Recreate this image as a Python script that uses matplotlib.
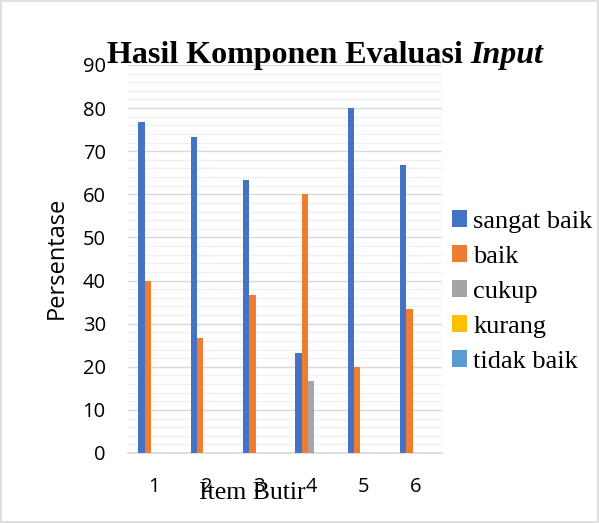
import matplotlib
matplotlib.use("Agg")
import matplotlib.pyplot as plt
from matplotlib.patches import Rectangle
from matplotlib.ticker import MultipleLocator
import numpy as np

categories = ["1", "2", "3", "4", "5", "6"]
series_names = ["sangat baik", "baik", "cukup", "kurang", "tidak baik"]
sangat_baik = [76.7, 73.3, 63.3, 23.3, 80.0, 66.7]
baik = [40.0, 26.7, 36.7, 60.0, 20.0, 33.3]
cukup = [0, 0, 0, 16.7, 0, 0]
kurang = [0, 0, 0, 0, 0, 0]
tidak_baik = [0, 0, 0, 0, 0, 0]
colors = ["#4472C4", "#ED7D31", "#A5A5A5", "#FFC000", "#5B9BD5"]

series = [sangat_baik, baik, cukup, kurang, tidak_baik]

fig = plt.figure(figsize=(5.99, 5.23), dpi=100)
fig.patches.append(Rectangle((0.002, 0.002), 0.996, 0.996, transform=fig.transFigure,
                             fill=False, edgecolor="#d9d9d9", linewidth=1.2))
ax = fig.add_axes([128/599, 1-453/523, 314/599, 388/523])

x = np.arange(len(categories))
w = 0.122
handles = []
for k, (vals, name, c) in enumerate(zip(series, series_names, colors)):
    b = ax.bar(x + (k - 2) * w, vals, width=w, color=c, label=name, linewidth=0, zorder=3)
    handles.append(b)

ax.set_xlim(-0.5, len(categories) - 0.5)
ax.set_ylim(0, 90)
ax.yaxis.set_major_locator(MultipleLocator(10))
ax.yaxis.set_minor_locator(MultipleLocator(2))
ax.grid(which="major", axis="y", color="#d9d9d9", linewidth=1.0, zorder=0)
ax.grid(which="minor", axis="y", color="#f0f0f0", linewidth=1.0, zorder=0)
for s in ["top", "right", "left"]:
    ax.spines[s].set_visible(False)
ax.spines["bottom"].set_color("#d9d9d9")
ax.spines["bottom"].set_linewidth(1.2)
ax.set_xticks(x)
ax.set_xticklabels(categories)
ax.tick_params(axis="both", which="both", length=0, labelsize=14.5, colors="#000000")
for lbl in ax.get_xticklabels() + ax.get_yticklabels():
    lbl.set_fontfamily("Open Sans")
ax.tick_params(axis="x", pad=17)
ax.tick_params(axis="y", pad=16)

fig.text(57/599, 1-258/523, "Persentase", rotation=90, ha="center", va="center",
         fontsize=17, fontfamily="Open Sans")
fig.text(252/599, 1-499/523, "Item Butir", ha="center", va="baseline",
         fontsize=18.5, fontfamily="Liberation Serif")

leg = fig.legend(handles=handles, labels=series_names, loc="upper left",
                 bbox_to_anchor=(452/599, 1-210/523), frameon=False,
                 prop={"family": "Liberation Serif", "size": 19},
                 handlelength=0.55, handleheight=0.6, handletextpad=0.25,
                 labelspacing=0.47, borderaxespad=0, borderpad=0)

# title with italic part
t1 = fig.text(0.5, 1-63/523, "Hasil Komponen Evaluasi ", ha="left", va="baseline",
              fontsize=23, fontweight="bold", fontfamily="Liberation Serif")
t2 = fig.text(0.5, 1-63/523, "Input", ha="left", va="baseline",
              fontsize=23, fontweight="bold", fontstyle="italic", fontfamily="Liberation Serif")
fig.canvas.draw()
r = fig.canvas.get_renderer()
e1 = t1.get_window_extent(r)
e2 = t2.get_window_extent(r)
total = e1.width + e2.width
center = 325
start = center - total / 2
t1.set_x(start / 599)
t2.set_x((start + e1.width) / 599)

fig.savefig("out.png", dpi=100)
